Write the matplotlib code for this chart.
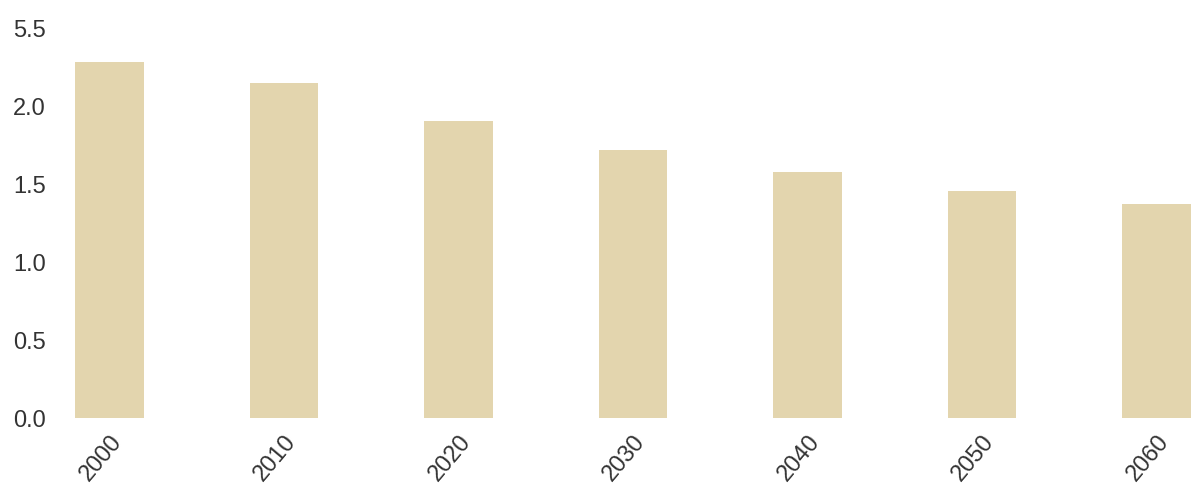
import numpy as np
import matplotlib as mpl
import matplotlib.pyplot as plt

mpl.rcParams['font.family'] = ['Liberation Sans', 'DejaVu Sans']

years = ['2000', '2010', '2020', '2030', '2040', '2050', '2060']
values = [2.285, 2.15, 1.905, 1.72, 1.58, 1.455, 1.375]
ytick_vals = [0.0, 0.5, 1.0, 1.5, 2.0, 2.5]
ytick_labels = ['0.0', '0.5', '1.0', '1.5', '2.0', '5.5']

W, H = 1201, 486
fig = plt.figure(figsize=(W / 100, H / 100), dpi=100)
# axes placed in pixels: left 60, bottom at y=418, top at y=20
ax = fig.add_axes([60 / W, (H - 418) / H, (W - 60) / W, (418 - 20) / H])

x = np.arange(len(years))
ax.bar(x, values, width=0.395, color='#e3d5ae')

px = 174.5
ax.set_xlim(-(109.5 - 60) / px, 6 + (W - 1156.5) / px)
ax.set_ylim(0, (418 - 20) / 155.7)

ax.set_yticks(ytick_vals)
ax.set_yticklabels(ytick_labels)
ax.set_xticks(x)
ax.set_xticklabels(years, rotation=50, ha='right', rotation_mode='anchor')

ax.tick_params(axis='both', length=0, labelsize=17, colors='#333333')
ax.tick_params(axis='y', pad=10)
ax.tick_params(axis='x', pad=9)
for s in ax.spines.values():
    s.set_visible(False)

plt.savefig('out.png', dpi=100)
